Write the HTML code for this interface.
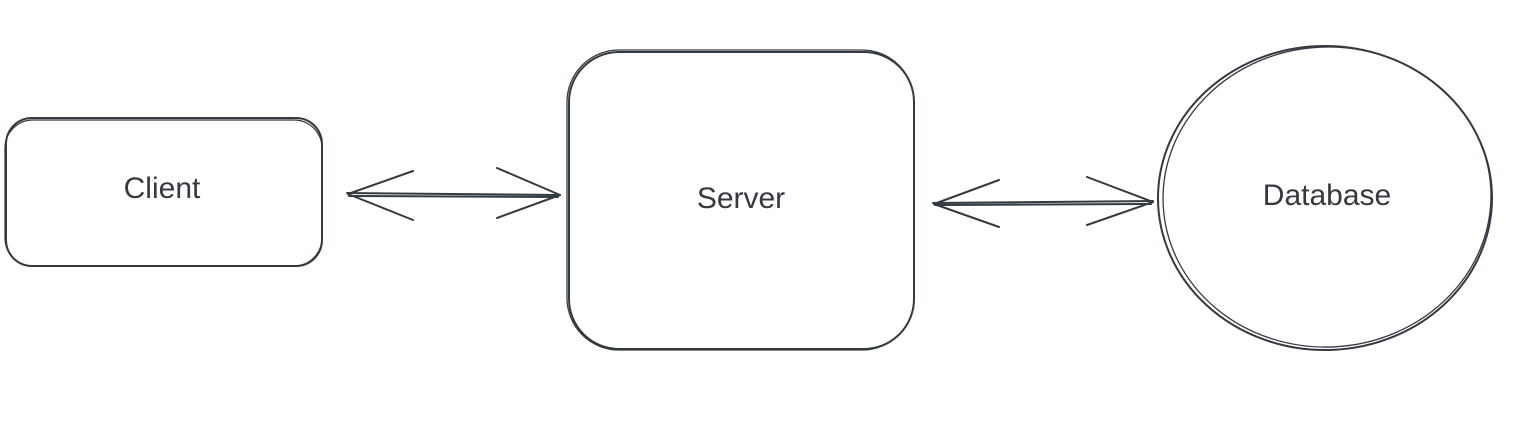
<!DOCTYPE html>
<html><head><meta charset="utf-8"><style>
html,body{margin:0;padding:0;background:#fff;}
svg{display:block;}
text{font-family:"Liberation Sans",sans-serif;font-size:30px;fill:#343a40;text-anchor:middle;dominant-baseline:middle;}
</style></head><body>
<svg width="1526" height="422" viewBox="0 0 1526 422" xmlns="http://www.w3.org/2000/svg">
<g fill="none" stroke="#343a40" stroke-width="2" stroke-linecap="round" stroke-linejoin="round">
  <!-- Client -->
  <rect x="6" y="118" width="316" height="148" rx="26"/>
  <rect x="5" y="120" width="317" height="146" rx="28" stroke-width="1.3"/>
  <!-- Arrow 1 -->
  <path d="M347 193 L560 195 M349 196 L558 197"/>
  <path d="M413 171 L348 194 L413 220"/>
  <path d="M497 168 L560 195 L497 218"/>
  <!-- Server -->
  <rect x="569" y="52" width="345" height="297" rx="50"/>
  <rect x="567" y="50" width="347" height="300" rx="52" stroke-width="1.3"/>
  <!-- Arrow 2 -->
  <path d="M933 203 L1153 201 M935 205 L1151 204"/>
  <path d="M999 180 L934 204 L999 227"/>
  <path d="M1087 177 L1153 202 L1087 225"/>
  <!-- Database -->
  <ellipse cx="1325" cy="198" rx="167" ry="152"/>
  <ellipse cx="1327" cy="197" rx="164" ry="150" stroke-width="1.3" transform="rotate(-3 1327 197)"/>
</g>
<text x="162" y="190">Client</text>
<text x="741" y="200">Server</text>
<text x="1327" y="197">Database</text>
</svg>
</body></html>
